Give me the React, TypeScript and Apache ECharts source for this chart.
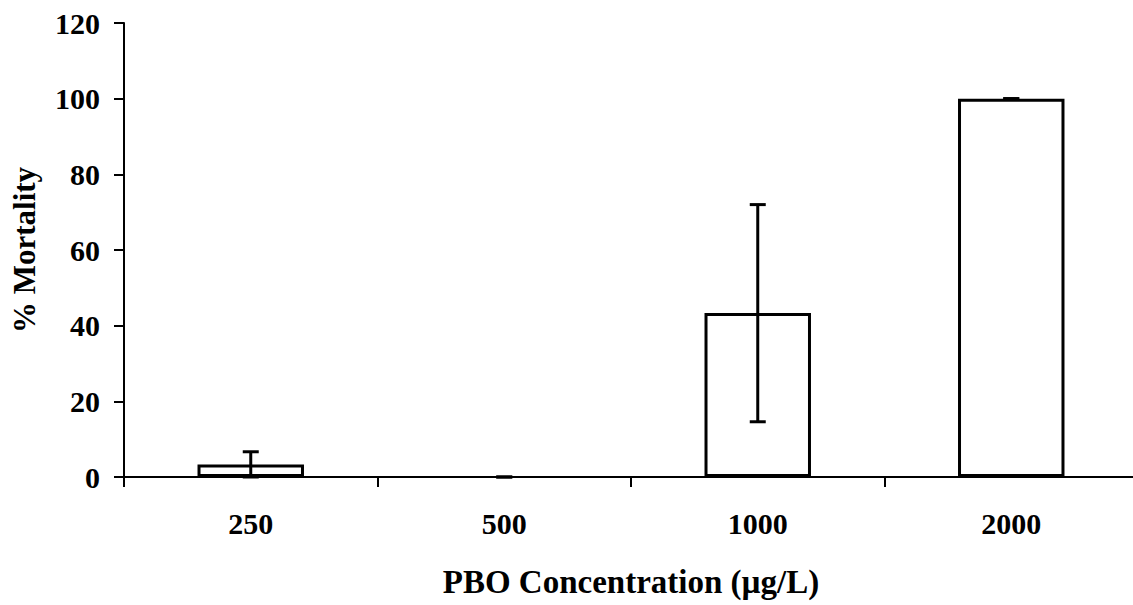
import React, { useEffect, useRef } from "react";
import * as echarts from "echarts";

const categories = ["250", "500", "1000", "2000"];
const mortality = [3.33, 0, 43.33, 100];
const errorLow = [0, 0, 14.6, 100];
const errorHigh = [6.67, 0, 72, 100];
const yTicks = { min: 0, max: 120, interval: 20 };

const FONT = "'Liberation Serif', 'Times New Roman', serif";

export default function App() {
  const ref = useRef<HTMLDivElement>(null);
  useEffect(() => {
    if (!ref.current) return;
    const chart = echarts.init(ref.current, null, { renderer: "svg" });
    const errData = categories.map((_, i) => [i, errorLow[i], errorHigh[i]]);
    const barData = mortality.map((v) =>
      v === 0 ? { value: v, itemStyle: { borderWidth: 0 } } : v
    );
    chart.setOption({
      animation: false,
      backgroundColor: "#ffffff",
      grid: {
        left: 124,
        top: 23,
        bottom: 128,
        width: 1014,
        containLabel: false,
        outerBoundsMode: "none",
      },
      xAxis: {
        type: "category",
        data: categories,
        boundaryGap: true,
        axisLine: { lineStyle: { color: "#000", width: 2 } },
        axisTick: { show: true, length: 10, interval: 0, lineStyle: { color: "#000", width: 2 } },
        axisLabel: { color: "#000", fontFamily: FONT, fontWeight: "bold", fontSize: 30, margin: 31 },
        name: "PBO Concentration (µg/L)",
        nameLocation: "middle",
        nameGap: 88,
        nameTextStyle: { color: "#000", fontFamily: FONT, fontWeight: "bold", fontSize: 33 },
        splitLine: { show: false },
      },
      yAxis: {
        type: "value",
        min: yTicks.min,
        max: yTicks.max,
        interval: yTicks.interval,
        axisLine: { show: true, lineStyle: { color: "#000", width: 2 } },
        axisTick: { show: true, length: 10, lineStyle: { color: "#000", width: 2 } },
        axisLabel: { color: "#000", fontFamily: FONT, fontWeight: "bold", fontSize: 30, margin: 24 },
        splitLine: { show: false },
        name: "% Mortality",
        nameLocation: "middle",
        nameGap: 84,
        nameRotate: 90,
        nameTextStyle: { color: "#000", fontFamily: FONT, fontWeight: "bold", fontSize: 31 },
      },
      series: [
        {
          type: "bar",
          data: barData,
          barWidth: "42%",
          itemStyle: { color: "#fff", borderColor: "#000", borderWidth: 3 },
          z: 2,
        },
        {
          type: "custom",
          data: errData,
          z: 3,
          renderItem: (params: any, api: any) => {
            const x = api.value(0);
            const lo = api.coord([x, api.value(1)]);
            const hi = api.coord([x, api.value(2)]);
            const half = 8;
            const style = { stroke: "#000", lineWidth: 3, fill: "none" };
            return {
              type: "group",
              children: [
                { type: "line", shape: { x1: hi[0], y1: hi[1], x2: lo[0], y2: lo[1] }, style },
                { type: "line", shape: { x1: hi[0] - half, y1: hi[1], x2: hi[0] + half, y2: hi[1] }, style },
                { type: "line", shape: { x1: lo[0] - half, y1: lo[1], x2: lo[0] + half, y2: lo[1] }, style },
              ],
            };
          },
        },
      ],
    });
    return () => chart.dispose();
  }, []);
  return (
    <div
      ref={ref}
      style={{ position: "fixed", left: 0, top: 0, width: 1133, height: 605, background: "#fff" }}
    />
  );
}
